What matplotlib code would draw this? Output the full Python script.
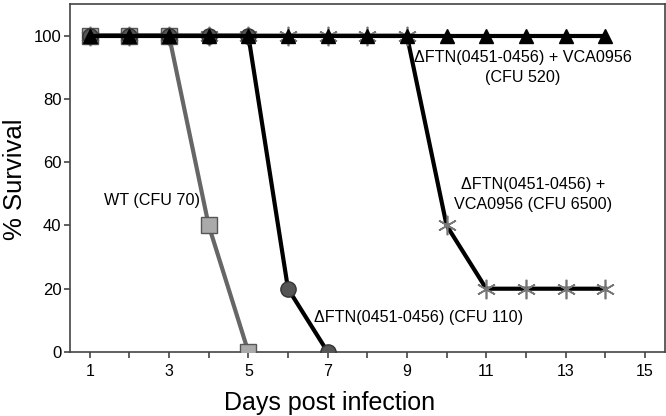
import matplotlib
matplotlib.use("Agg")
import matplotlib.pyplot as plt

# Data
days_wt = [1, 2, 3, 4, 5]
surv_wt = [100, 100, 100, 40, 0]

days_ftn = [1, 2, 3, 4, 5, 6, 7]
surv_ftn = [100, 100, 100, 100, 100, 20, 0]

days_vca520 = list(range(1, 15))
surv_vca520 = [100] * 14

days_vca6500 = list(range(1, 15))
surv_vca6500 = [100, 100, 100, 100, 100, 100, 100, 100, 100, 40, 20, 20, 20, 20]

x_ticks = list(range(1, 16))
x_labels = [str(d) if d % 2 == 1 else "" for d in x_ticks]
y_ticks = [0, 20, 40, 60, 80, 100]

plt.rcParams['font.family'] = ['Liberation Sans', 'DejaVu Sans']

fig = plt.figure(figsize=(6.66, 4.16), dpi=100)
ax = fig.add_axes([0.105, 0.154, 0.893, 0.836])

ax.plot(days_vca6500, surv_vca6500, color='black', lw=3, marker=(6, 2, 0),
        ms=14, mec='#777777', mew=1.2, zorder=3)
ax.plot(days_wt, surv_wt, color='#666666', lw=3, marker='s',
        ms=12, mfc='#aaaaaa', mec='#555555', mew=1, zorder=4)
ax.plot(days_ftn, surv_ftn, color='black', lw=3, marker='o',
        ms=11, mfc='#555555', mec='#333333', mew=1, zorder=5)
ax.plot(days_vca520, surv_vca520, color='black', lw=3, marker='^',
        ms=10, mfc='black', mec='black', zorder=6)

ax.set_xlim(0.5, 15.5)
ax.set_ylim(0, 110)
ax.set_xticks(x_ticks)
ax.set_xticklabels(x_labels)
ax.set_yticks(y_ticks)
ax.tick_params(direction='out', length=4, width=1.2, color='#444444')
ax.tick_params(axis='x', labelsize=11.5, pad=5)
ax.tick_params(axis='y', labelsize=12, pad=2)
for s in ax.spines.values():
    s.set_color('#444444')
    s.set_linewidth(1.2)

ax.set_xlabel("Days post infection", fontsize=18, va='baseline')
ax.xaxis.set_label_coords(0.437, -0.167)
ax.set_ylabel("% Survival", fontsize=18.5, va='baseline')
ax.yaxis.set_label_coords(-0.081, 0.497)

ax.text(3.77, 48, "WT (CFU 70)", ha='right', va='center', fontsize=11.6)
ax.text(9.3, 11, "\u0394FTN(0451-0456) (CFU 110)", ha='center', va='center', fontsize=11.6)
ax.text(11.93, 90, "\u0394FTN(0451-0456) + VCA0956\n(CFU 520)", ha='center',
        va='center', fontsize=11.6, linespacing=1.4)
ax.text(12.17, 49.8, "\u0394FTN(0451-0456) +\nVCA0956 (CFU 6500)", ha='center',
        va='center', fontsize=11.6, linespacing=1.4)

fig.savefig("out.png", dpi=100)
